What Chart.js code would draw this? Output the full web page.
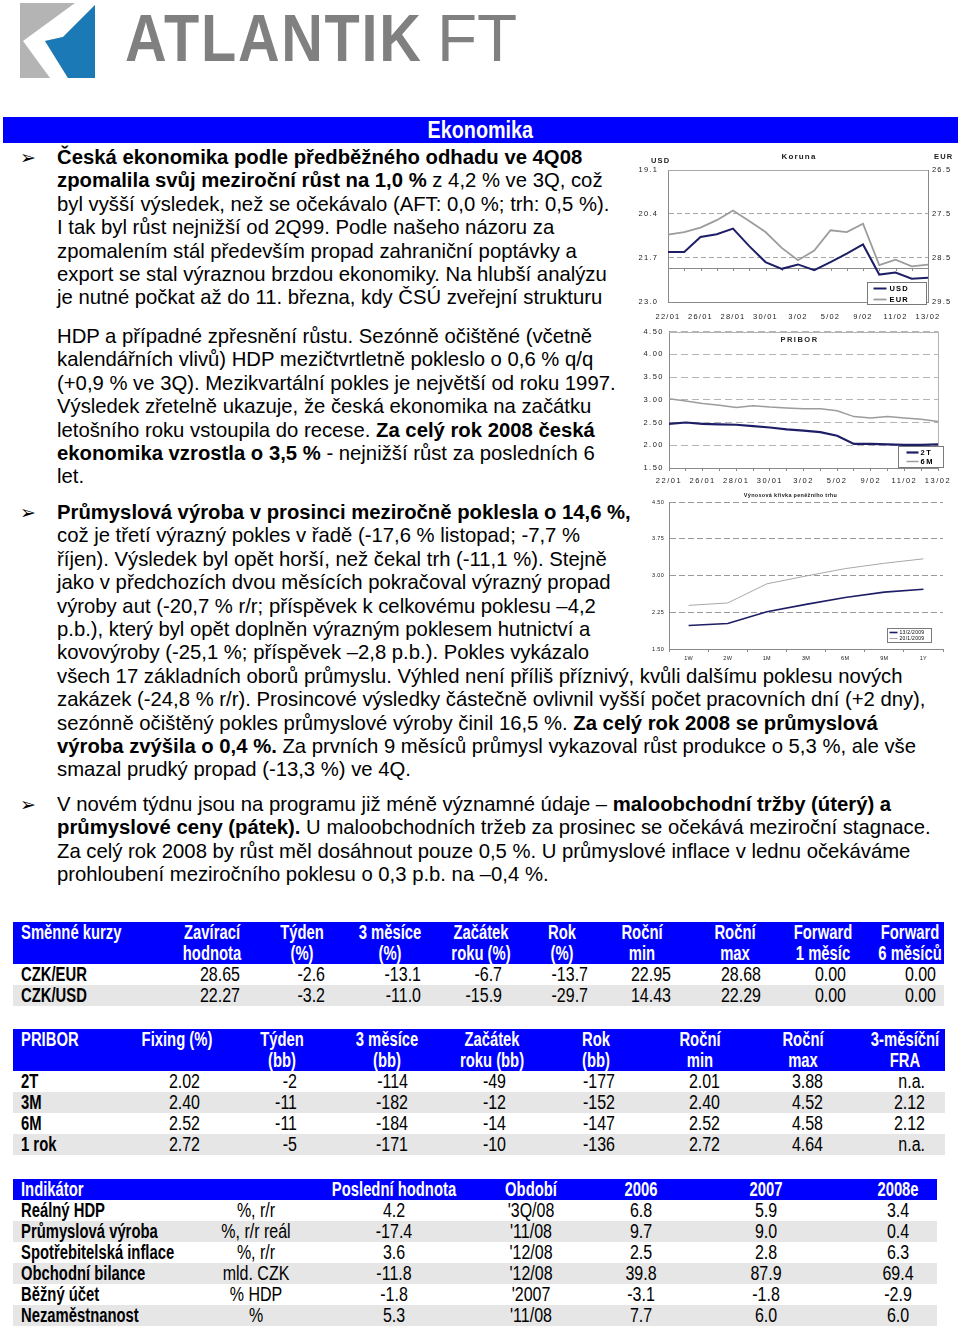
<!DOCTYPE html>
<html lang="cs">
<head>
<meta charset="utf-8">
<title>Ekonomika</title>
<script src="https://cdn.jsdelivr.net/npm/chart.js@4.4.1/dist/chart.umd.min.js"></script>
<style>
  html, body { margin: 0; padding: 0; background: #fff; }
  #page { position: relative; width: 960px; height: 1326px; overflow: hidden;
          font-family: "Liberation Sans", Arial, sans-serif; color: #000; }
  #logo-icon { position: absolute; left: 20px; top: 3px; }
  .logo { position: absolute; top: 4px; font-size: 67px; line-height: 67px; color: #808080;
          white-space: nowrap; transform-origin: 0 50%; }
  #logo-a { left: 125px; font-weight: bold; letter-spacing: 2px; transform: scaleX(0.86); }
  #logo-b { left: 437px; font-weight: normal; transform: scaleX(0.98); }
  #bar { position: absolute; left: 3px; top: 117px; width: 955px; height: 26px; background: #0000ff;
         color: #fff; text-align: center; font-size: 23px; font-weight: bold; line-height: 27px; }
  #bar span { display: inline-block; transform: scaleX(0.86); }
  .txt { position: absolute; left: 57px; font-size: 20.3px; line-height: 23.4px; white-space: nowrap; }
  .bullet { position: absolute; left: 20px; font-size: 19px; line-height: 23.4px;
            font-family: "DejaVu Sans", sans-serif; }
  canvas.chart { position: absolute; }
  .tbl { position: absolute; left: 13px; font-size: 19.5px; }
  .tbl div { position: absolute; left: 0; height: 21px; }
  .tbl span { position: absolute; top: 0; line-height: 21px; white-space: nowrap; }
  .tbl .head { background: #0000ff; color: #fff; font-weight: bold; }
  .tbl .odd { background: #e6e6e6; }
  .tbl .name { font-weight: bold; }
</style>
</head>
<body>
<div id="page">

  <svg id="logo-icon" width="75" height="75" viewBox="0 0 75 75">
    <rect width="75" height="75" fill="#b4b4b4"/>
    <polygon points="55,0 75,0 75,2 43,34 25,38 48,75 30,75 3,38" fill="#fff"/>
    <polygon points="75,2 75,75 48,75 25,38 43,34" fill="#1b7ab6"/>
  </svg>
  <div id="logo-a" class="logo">ATLANTIK</div>
  <div id="logo-b" class="logo">FT</div>

  <div id="bar"><span>Ekonomika</span></div>

  <div class="bullet" style="top:146px">➢</div>
  <div class="txt" style="top:146px">
    <b>Česká ekonomika podle předběžného odhadu ve 4Q08</b><br>
    <b>zpomalila svůj meziroční růst na 1,0 %</b> z 4,2 % ve 3Q, což<br>
    byl vyšší výsledek, než se očekávalo (AFT: 0,0 %; trh: 0,5 %).<br>
    I tak byl růst nejnižší od 2Q99. Podle našeho názoru za<br>
    zpomalením stál především propad zahraniční poptávky a<br>
    export se stal výraznou brzdou ekonomiky. Na hlubší analýzu<br>
    je nutné počkat až do 11. března, kdy ČSÚ zveřejní strukturu
  </div>
  <div class="txt" style="top:325px">
    HDP a případné zpřesnění růstu. Sezónně očištěné (včetně<br>
    kalendářních vlivů) HDP mezičtvrtletně pokleslo o 0,6 % q/q<br>
    (+0,9 % ve 3Q). Mezikvartální pokles je největší od roku 1997.<br>
    Výsledek zřetelně ukazuje, že česká ekonomika na začátku<br>
    letošního roku vstoupila do recese. <b>Za celý rok 2008 česká</b><br>
    <b>ekonomika vzrostla o 3,5 %</b> - nejnižší růst za posledních 6<br>
    let.
  </div>

  <div class="bullet" style="top:501px">➢</div>
  <div class="txt" style="top:501px">
    <b>Průmyslová výroba v prosinci meziročně poklesla o 14,6 %,</b><br>
    což je třetí výrazný pokles v řadě (-17,6 % listopad; -7,7 %<br>
    říjen). Výsledek byl opět horší, než čekal trh (-11,1 %). Stejně<br>
    jako v předchozích dvou měsících pokračoval výrazný propad<br>
    výroby aut (-20,7 % r/r; příspěvek k celkovému poklesu –4,2<br>
    p.b.), který byl opět doplněn výrazným poklesem hutnictví a<br>
    kovovýroby (-25,1 %; příspěvek –2,8 p.b.). Pokles vykázalo<br>
    všech 17 základních oborů průmyslu. Výhled není příliš příznivý, kvůli dalšímu poklesu nových<br>
    zakázek (-24,8 % r/r). Prosincové výsledky částečně ovlivnil vyšší počet pracovních dní (+2 dny),<br>
    sezónně očištěný pokles průmyslové výroby činil 16,5 %. <b>Za celý rok 2008 se průmyslová</b><br>
    <b>výroba zvýšila o 0,4 %.</b> Za prvních 9 měsíců průmysl vykazoval růst produkce o 5,3 %, ale vše<br>
    smazal prudký propad (-13,3 %) ve 4Q.
  </div>

  <div class="bullet" style="top:793px">➢</div>
  <div class="txt" style="top:793px">
    V novém týdnu jsou na programu již méně významné údaje – <b>maloobchodní tržby (úterý) a</b><br>
    <b>průmyslové ceny (pátek).</b> U maloobchodních tržeb za prosinec se očekává meziroční stagnace.<br>
    Za celý rok 2008 by růst měl dosáhnout pouze 0,5 %. U průmyslové inflace v lednu očekáváme<br>
    prohloubení meziročního poklesu o 0,3 p.b. na –0,4 %.
  </div>

  <canvas id="korunaChart" class="chart" width="322" height="174" style="left:638px;top:148px"></canvas>
  <canvas id="priborChart" class="chart" width="322" height="168" style="left:638px;top:322px"></canvas>
  <canvas id="curveChart" class="chart" width="322" height="178" style="left:638px;top:488px"></canvas>

  <div id="fxTable" class="tbl" style="top:922px"></div>
  <div id="priborTable" class="tbl" style="top:1029px"></div>
  <div id="macroTable" class="tbl" style="top:1179px"></div>
</div>

<script>
// --- Koruna (CZK/USD, CZK/EUR) ---
const korunaDates = ['22/01', '23/01', '26/01', '27/01', '28/01', '29/01', '30/01', '2/02', '3/02',
                     '4/02', '5/02', '6/02', '9/02', '10/02', '11/02', '12/02', '13/02'];
const usdRates = [21.52, 21.52, 21.08, 21.00, 20.83, 21.35, 21.82, 22.02, 21.89,
                  22.06, 21.82, 21.57, 21.30, 22.19, 22.13, 22.31, 22.28];
const eurRates = [27.97, 27.91, 27.81, 27.64, 27.42, 27.66, 27.91, 28.27, 28.55,
                  28.33, 27.87, 27.91, 27.72, 28.66, 28.54, 28.69, 28.65];
const usdTicks = [19.1, 20.4, 21.7, 23.0];
const eurTicks = [26.5, 27.5, 28.5, 29.5];
const usdCross = 22.0;

// --- PRIBOR ---
const priborDates = korunaDates;
const pribor2T = [2.47, 2.50, 2.47, 2.46, 2.45, 2.42, 2.39, 2.35, 2.32,
                  2.29, 2.21, 2.03, 2.03, 2.02, 2.01, 2.01, 2.02];
const pribor6M = [3.02, 2.97, 2.92, 2.88, 2.83, 2.87, 2.84, 2.82, 2.80,
                  2.80, 2.76, 2.63, 2.60, 2.63, 2.60, 2.57, 2.52];
const priborTicks = [1.5, 2.0, 2.5, 3.0, 3.5, 4.0, 4.5];

// --- Výnosová křivka ---
const curveTenors = ['1W', '2W', '1M', '3M', '6M', '9M', '1Y'];
const curve13Feb = [1.98, 2.02, 2.26, 2.41, 2.55, 2.66, 2.72];
const curve20Jan = [2.39, 2.44, 2.83, 2.99, 3.14, 3.25, 3.34];
const curveTicks = [1.5, 2.25, 3.0, 3.75, 4.5];

// --- Tabulky ---
const fxHeader = [['Směnné kurzy', ''], ['Zavírací', 'hodnota'], ['Týden', '(%)'], ['3 měsíce', '(%)'],
                  ['Začátek', 'roku (%)'], ['Rok', '(%)'], ['Roční', 'min'], ['Roční', 'max'],
                  ['Forward', '1 měsíc'], ['Forward', '6 měsíců']];
const fxRows = [
  ['CZK/EUR', '28.65', '-2.6', '-13.1', '-6.7', '-13.7', '22.95', '28.68', '0.00', '0.00'],
  ['CZK/USD', '22.27', '-3.2', '-11.0', '-15.9', '-29.7', '14.43', '22.29', '0.00', '0.00']
];
const priborHeader = [['PRIBOR', ''], ['Fixing (%)', ''], ['Týden', '(bb)'], ['3 měsíce', '(bb)'],
                      ['Začátek', 'roku (bb)'], ['Rok', '(bb)'], ['Roční', 'min'], ['Roční', 'max'],
                      ['3-měsíční', 'FRA']];
const priborRows = [
  ['2T', '2.02', '-2', '-114', '-49', '-177', '2.01', '3.88', 'n.a.'],
  ['3M', '2.40', '-11', '-182', '-12', '-152', '2.40', '4.52', '2.12'],
  ['6M', '2.52', '-11', '-184', '-14', '-147', '2.52', '4.58', '2.12'],
  ['1 rok', '2.72', '-5', '-171', '-10', '-136', '2.72', '4.64', 'n.a.']
];
const macroHeader = ['Indikátor', '', 'Poslední hodnota', 'Období', '2006', '2007', '2008e'];
const macroRows = [
  ['Reálný HDP', '%, r/r', '4.2', "'3Q/08", '6.8', '5.9', '3.4'],
  ['Průmyslová výroba', '%, r/r reál', '-17.4', "'11/08", '9.7', '9.0', '0.4'],
  ['Spotřebitelská inflace', '%, r/r', '3.6', "'12/08", '2.5', '2.8', '6.3'],
  ['Obchodní bilance', 'mld. CZK', '-11.8', "'12/08", '39.8', '87.9', '69.4'],
  ['Běžný účet', '% HDP', '-1.8', "'2007", '-3.1', '-1.8', '-2.9'],
  ['Nezaměstnanost', '%', '5.3', "'11/08", '7.7', '6.0', '6.0']
];

// ============================================
// Tabulky (html) — úzké písmo simulujeme zúžením
// ============================================
const SQUEEZE = 0.82;
const SQUEEZE_BOLD = 0.76;

function addSpan(row, text, x, align, bold) {
  const s = document.createElement('span');
  const k = bold ? SQUEEZE_BOLD : SQUEEZE;
  s.textContent = text;
  s.style.left = x + 'px';
  if (align === 'center') {
    s.style.transform = `translateX(-50%) scaleX(${k})`;
  } else if (align === 'right') {
    s.style.transformOrigin = '100% 50%';
    s.style.transform = `translateX(-100%) scaleX(${k})`;
  } else {
    s.style.transformOrigin = '0 50%';
    s.style.transform = `scaleX(${k})`;
  }
  if (bold) s.className = 'name';
  row.appendChild(s);
}

function addRow(table, top, width, cls) {
  const r = document.createElement('div');
  r.style.top = top + 'px';
  r.style.width = width + 'px';
  if (cls) r.className = cls;
  table.appendChild(r);
  return r;
}

// x pozice jsou od levého okraje tabulky (13px)
function buildTwoLineTable(id, width, header, rows, centers, rights) {
  const table = document.getElementById(id);
  const h1 = addRow(table, 0, width, 'head');
  const h2 = addRow(table, 21, width, 'head');
  header.forEach((h, i) => {
    if (i === 0) { addSpan(h1, h[0], 8, 'left', true); return; }
    addSpan(h1, h[0], centers[i], 'center', true);
    if (h[1]) addSpan(h2, h[1], centers[i], 'center', true);
  });
  rows.forEach((row, r) => {
    const el = addRow(table, 42 + r * 21, width, r % 2 ? 'odd' : '');
    row.forEach((v, i) => {
      if (i === 0) addSpan(el, v, 8, 'left', true);
      else addSpan(el, v, rights[i], 'right', false);
    });
  });
}

buildTwoLineTable('fxTable', 931, fxHeader, fxRows,
  [0, 199, 289, 377, 468, 549, 629, 722, 810, 897],
  [0, 227, 312, 408, 489, 575, 658, 748, 833, 923]);
buildTwoLineTable('priborTable', 932, priborHeader, priborRows,
  [0, 164, 269, 374, 479, 583, 687, 790, 892],
  [0, 187, 284, 395, 493, 602, 707, 810, 912]);

(function buildMacroTable() {
  const table = document.getElementById('macroTable');
  const centers = [0, 243, 381, 518, 628, 753, 885];
  const head = addRow(table, 0, 924, 'head');
  macroHeader.forEach((h, i) => {
    if (i === 0) addSpan(head, h, 8, 'left', true);
    else if (h) addSpan(head, h, centers[i], 'center', true);
  });
  macroRows.forEach((row, r) => {
    const el = addRow(table, 21 + r * 21, 924, r % 2 ? 'odd' : '');
    row.forEach((v, i) => {
      if (i === 0) addSpan(el, v, 8, 'left', true);
      else addSpan(el, v, centers[i], 'center', false);
    });
  });
})();

// ============================================
// Grafy (Chart.js)
// ============================================
Chart.defaults.font.family = '"Liberation Sans", Arial, sans-serif';
Chart.defaults.color = '#1a1a1a';
Chart.defaults.animation = false;

const NAVY = '#1e1e66';
const GREY = '#9c9c9c';

// rozestup písmen jako v Excelu
function spacing(px) {
  return { id: 'spacing', beforeDraw(chart) { chart.ctx.letterSpacing = px; } };
}

function hline(ctx, x1, x2, y, color) {
  ctx.save();
  ctx.strokeStyle = color;
  ctx.lineWidth = 1;
  ctx.beginPath();
  ctx.moveTo(x1, Math.round(y) + 0.5);
  ctx.lineTo(x2, Math.round(y) + 0.5);
  ctx.stroke();
  ctx.restore();
}

function boxLegend(opt) {
  return {
    id: 'boxLegend',
    afterDraw(chart) {
      const { ctx, chartArea: ca } = chart;
      const x = Math.round(ca.right + opt.dx) + 0.5;
      const y = Math.round(ca.bottom + opt.dy) + 0.5;
      ctx.save();
      ctx.fillStyle = '#fff';
      ctx.fillRect(x, y, opt.w, opt.h);
      ctx.strokeStyle = '#7a7a7a';
      ctx.lineWidth = 1;
      ctx.strokeRect(x, y, opt.w, opt.h);
      ctx.font = opt.font;
      ctx.textBaseline = 'middle';
      ctx.textAlign = 'left';
      chart.data.datasets.forEach((ds, i) => {
        const ly = y + opt.rows[i];
        ctx.strokeStyle = ds.borderColor;
        ctx.lineWidth = ds.borderWidth;
        ctx.beginPath();
        ctx.moveTo(x + opt.line[0], ly);
        ctx.lineTo(x + opt.line[1], ly);
        ctx.stroke();
        ctx.fillStyle = '#000';
        ctx.fillText(ds.label, x + opt.text, ly);
      });
      ctx.restore();
    }
  };
}

const fixedTicks = values => scale => { scale.ticks = values.map(v => ({ value: v })); };

// --- Koruna ---
new Chart(document.getElementById('korunaChart'), {
  type: 'line',
  data: {
    labels: korunaDates,
    datasets: [
      { label: 'USD', data: usdRates, yAxisID: 'yUSD', borderColor: NAVY, borderWidth: 2 },
      { label: 'EUR', data: eurRates, yAxisID: 'yEUR', borderColor: GREY, borderWidth: 1.8 }
    ]
  },
  options: {
    responsive: false,
    elements: { point: { radius: 0 }, line: { tension: 0 } },
    plugins: {
      legend: { display: false },
      tooltip: { enabled: false },
      title: { display: true, text: 'Koruna', color: '#222',
               font: { size: 8, weight: 'bold' }, padding: { top: 3.6, bottom: 8.8 } }
    },
    scales: {
      x: {
        afterFit: s => { s.height = 20; },
        grid: { display: false, drawTicks: false },
        border: { color: '#8a8a8a' },
        ticks: { autoSkip: false, maxRotation: 0, padding: 10, font: { size: 7.5 },
                 callback: (v, i) => (i % 2 ? '' : korunaDates[i]) }
      },
      yUSD: {
        position: 'left', reverse: true,
        min: usdTicks[0], max: usdTicks[usdTicks.length - 1],
        afterBuildTicks: fixedTicks(usdTicks),
        afterFit: s => { s.width = 30; },
        grid: { color: '#a8a8a8', drawTicks: false },
        border: { color: '#8a8a8a', dash: [5, 3] },
        ticks: { padding: 10, font: { size: 7.5 }, callback: v => v.toFixed(1) }
      },
      yEUR: {
        position: 'right', reverse: true,
        min: eurTicks[0], max: eurTicks[eurTicks.length - 1],
        afterBuildTicks: fixedTicks(eurTicks),
        afterFit: s => { s.width = 32; },
        grid: { drawOnChartArea: false, drawTicks: false },
        border: { color: '#8a8a8a' },
        ticks: { padding: 4, font: { size: 7.5 }, callback: v => v.toFixed(1) }
      }
    }
  },
  plugins: [
    spacing('1.2px'),
    {
      id: 'korunaFrame',
      beforeDatasetsDraw(chart) {
        const { ctx, chartArea: ca, scales } = chart;
        hline(ctx, ca.left, ca.right, ca.top, '#a8a8a8');
        const y = scales.yUSD.getPixelForValue(usdCross);
        hline(ctx, ca.left, ca.right, y, '#8a8a8a');
        ctx.save();
        ctx.strokeStyle = '#8a8a8a';
        korunaDates.forEach((_, i) => {
          const x = Math.round(scales.x.getPixelForValue(i)) + 0.5;
          ctx.beginPath();
          ctx.moveTo(x, Math.round(y));
          ctx.lineTo(x, Math.round(y) + 3);
          ctx.stroke();
        });
        ctx.restore();
      },
      afterDraw(chart) {
        const { ctx, chartArea: ca } = chart;
        ctx.save();
        ctx.font = 'bold 7.5px "Liberation Sans", Arial, sans-serif';
        ctx.fillStyle = '#222';
        ctx.textBaseline = 'middle';
        ctx.textAlign = 'left';
        ctx.fillText('USD', ca.left - 17, ca.top - 9);
        ctx.fillText('EUR', ca.right + 6, ca.top - 13);
        ctx.restore();
      }
    },
    boxLegend({ dx: -61, dy: -20, w: 59, h: 22, rows: [6, 17], line: [6, 19], text: 22,
                font: 'bold 7.5px "Liberation Sans", Arial, sans-serif' })
  ]
});

// --- PRIBOR ---
new Chart(document.getElementById('priborChart'), {
  type: 'line',
  data: {
    labels: priborDates,
    datasets: [
      { label: '2T', data: pribor2T, borderColor: NAVY, borderWidth: 2.2 },
      { label: '6M', data: pribor6M, borderColor: GREY, borderWidth: 1.5 }
    ]
  },
  options: {
    responsive: false,
    layout: { padding: { top: 8, right: 22 } },
    elements: { point: { radius: 0 }, line: { tension: 0 } },
    plugins: { legend: { display: false }, tooltip: { enabled: false } },
    scales: {
      x: {
        afterFit: s => { s.height = 22; },
        grid: { drawOnChartArea: false, drawTicks: true, tickLength: 3, color: '#8a8a8a' },
        border: { color: '#8a8a8a' },
        ticks: { autoSkip: false, maxRotation: 0, padding: 5, font: { size: 7.5 },
                 callback: (v, i) => (i % 2 ? '' : priborDates[i]) }
      },
      y: {
        min: priborTicks[0], max: priborTicks[priborTicks.length - 1],
        afterBuildTicks: fixedTicks(priborTicks),
        afterFit: s => { s.width = 31; },
        grid: { color: '#b4b4b4', drawTicks: false },
        border: { color: '#8a8a8a', dash: [7, 4] },
        ticks: { padding: 5, font: { size: 7.5 }, callback: v => v.toFixed(2) }
      }
    }
  },
  plugins: [
    spacing('1.5px'),
    {
      id: 'priborFrame',
      beforeDatasetsDraw(chart) {
        const { ctx, chartArea: ca } = chart;
        hline(ctx, ca.left, ca.right, ca.top, '#b4b4b4');
        ctx.save();
        ctx.strokeStyle = '#b4b4b4';
        ctx.beginPath();
        ctx.moveTo(Math.round(ca.right) + 0.5, ca.top);
        ctx.lineTo(Math.round(ca.right) + 0.5, ca.bottom);
        ctx.stroke();
        ctx.font = 'bold 7.5px "Liberation Sans", Arial, sans-serif';
        ctx.fillStyle = '#222';
        ctx.textAlign = 'center';
        ctx.textBaseline = 'middle';
        ctx.fillText('PRIBOR', (ca.left + ca.right) / 2 - 4, ca.top + 8);
        ctx.restore();
      }
    },
    boxLegend({ dx: -40, dy: -22, w: 45, h: 21, rows: [6, 15], line: [8, 20], text: 22,
                font: 'bold 7.5px "Liberation Sans", Arial, sans-serif' })
  ]
});

// --- Výnosová křivka peněžního trhu ---
new Chart(document.getElementById('curveChart'), {
  type: 'line',
  data: {
    labels: curveTenors,
    datasets: [
      { label: '13/2/2009', data: curve13Feb, borderColor: NAVY, borderWidth: 1.6 },
      { label: '20/1/2009', data: curve20Jan, borderColor: '#a8a8a8', borderWidth: 1 }
    ]
  },
  options: {
    responsive: false,
    layout: { padding: { right: 17 } },
    elements: { point: { radius: 0 }, line: { tension: 0 } },
    plugins: {
      legend: { display: false },
      tooltip: { enabled: false },
      title: { display: true, text: 'Výnosová křivka peněžního trhu', color: '#222',
               font: { size: 5.5, weight: 'bold' }, padding: { top: 3.7, bottom: 3.7 } }
    },
    scales: {
      x: {
        offset: true,
        afterFit: s => { s.height = 17; },
        grid: { offset: true, drawOnChartArea: false, drawTicks: true, tickLength: 3, color: '#8a8a8a' },
        border: { color: '#8a8a8a' },
        ticks: { maxRotation: 0, padding: 3, font: { size: 5.5 } }
      },
      y: {
        min: curveTicks[0], max: curveTicks[curveTicks.length - 1],
        afterBuildTicks: fixedTicks(curveTicks),
        afterFit: s => { s.width = 31; },
        grid: { color: '#9a9a9a', drawTicks: false },
        border: { color: '#8a8a8a', dash: [6, 3] },
        ticks: { padding: 5, font: { size: 5.5 }, callback: v => v.toFixed(2) }
      }
    }
  },
  plugins: [
    spacing('0.3px'),
    boxLegend({ dx: -56, dy: -21, w: 44, h: 14, rows: [4, 10], line: [2, 10], text: 12,
                font: '5px "Liberation Sans", Arial, sans-serif' })
  ]
});
</script>
</body>
</html>
